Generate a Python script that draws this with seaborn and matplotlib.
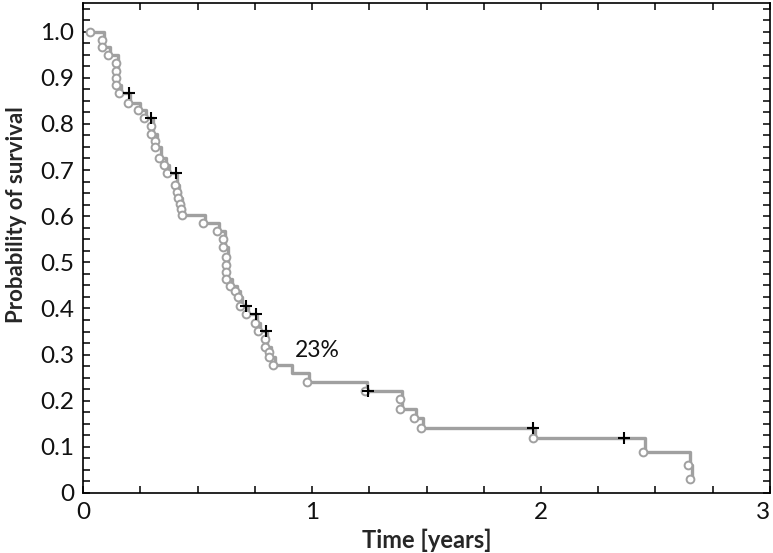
import matplotlib
matplotlib.use("Agg")
import matplotlib.pyplot as plt
import seaborn as sns
import pandas as pd
from matplotlib.ticker import MultipleLocator

# events (open circles): time in years, survival after the event
event_t = [0.039, 0.092, 0.092, 0.118, 0.153, 0.153, 0.153, 0.153, 0.166, 0.205,
           0.249, 0.275, 0.306, 0.306, 0.323, 0.323, 0.341, 0.362, 0.376, 0.410,
           0.419, 0.424, 0.432, 0.437, 0.441, 0.533, 0.594, 0.620, 0.620, 0.633,
           0.633, 0.633, 0.633, 0.651, 0.672, 0.686, 0.694, 0.721, 0.760, 0.773,
           0.803, 0.803, 0.821, 0.821, 0.838, 0.987, 1.240, 1.393, 1.393, 1.454,
           1.485, 1.974, 2.454, 2.651, 2.659]
event_s = [1.000, 0.981, 0.966, 0.949, 0.932, 0.914, 0.899, 0.884, 0.867, 0.845,
           0.829, 0.812, 0.796, 0.778, 0.763, 0.750, 0.726, 0.711, 0.693, 0.667,
           0.652, 0.639, 0.626, 0.615, 0.602, 0.585, 0.568, 0.550, 0.533, 0.511,
           0.494, 0.479, 0.464, 0.449, 0.438, 0.425, 0.405, 0.388, 0.368, 0.351,
           0.334, 0.316, 0.306, 0.295, 0.277, 0.241, 0.221, 0.204, 0.182, 0.163,
           0.141, 0.119, 0.089, 0.061, 0.030]

# drop without a visible circle
hidden_t = [0.913]
hidden_s = [0.260]

# censored observations (+)
cens_t = [0.201, 0.299, 0.406, 0.712, 0.755, 0.799, 1.245, 1.965, 2.362]
cens_s = [0.867, 0.812, 0.693, 0.405, 0.388, 0.351, 0.221, 0.141, 0.119]

xticks = [0, 1, 2, 3]
yticks = [0, 0.1, 0.2, 0.3, 0.4, 0.5, 0.6, 0.7, 0.8, 0.9, 1.0]
ytick_labels = ['0', '0.1', '0.2', '0.3', '0.4', '0.5', '0.6', '0.7', '0.8', '0.9', '1.0']

events = pd.DataFrame({'t': event_t, 's': event_s})
censored = pd.DataFrame({'t': cens_t, 's': cens_s})
curve = pd.concat([events, censored, pd.DataFrame({'t': hidden_t, 's': hidden_s})])
curve = curve.sort_values(['t', 's'], ascending=[True, False]).reset_index(drop=True)

sns.set_theme(style="ticks")
plt.rcParams['font.family'] = ['Lato', 'DejaVu Sans']

fig = plt.figure(figsize=(7.73, 5.53), dpi=100)
ax = fig.add_axes([0.1074, 0.1085, 0.8887, 0.8861])

grey = '#a0a0a0'
sns.lineplot(data=curve, x='t', y='s', ax=ax, estimator=None, sort=False,
             drawstyle='steps-post', color=grey, linewidth=2.4, zorder=2)
ax.plot(events['t'] - 0.01, events['s'], linestyle='none', marker='o', markersize=5.6,
        markerfacecolor='white', markeredgecolor=grey, markeredgewidth=1.4, zorder=3)
ax.plot(censored['t'], censored['s'], linestyle='none', marker='+', markersize=8,
        color='black', markeredgewidth=1.5, zorder=4)

ax.text(1.022, 0.308, '23%', fontsize=16.5, ha='center', va='center', color='#111111')

ax.set_xlim(0, 3)
ax.set_ylim(0, 1.062)
ax.set_xticks(xticks)
ax.set_xticklabels([str(v) for v in xticks])
ax.set_yticks(yticks)
ax.set_yticklabels(ytick_labels)
ax.xaxis.set_minor_locator(MultipleLocator(0.25))
ax.yaxis.set_minor_locator(MultipleLocator(0.025))
ax.tick_params(which='both', direction='in', top=True, right=True,
               length=5, width=1.1, color='black')
ax.tick_params(which='major', labelsize=17.5, pad=6.5, labelcolor='#111111')
ax.get_xticklabels()[-1].set_horizontalalignment('right')
ax.get_xticklabels()[-1].set_x(3.005)
for sp in ax.spines.values():
    sp.set_linewidth(1.2)
    sp.set_color('black')

ax.set_xlabel('Time [years]', fontsize=17, fontweight='bold', labelpad=4)
ax.set_ylabel('Probability of survival', fontsize=16, fontweight='bold')
ax.yaxis.set_label_coords(-0.081, 0.569)

fig.savefig('out.png', dpi=100)
